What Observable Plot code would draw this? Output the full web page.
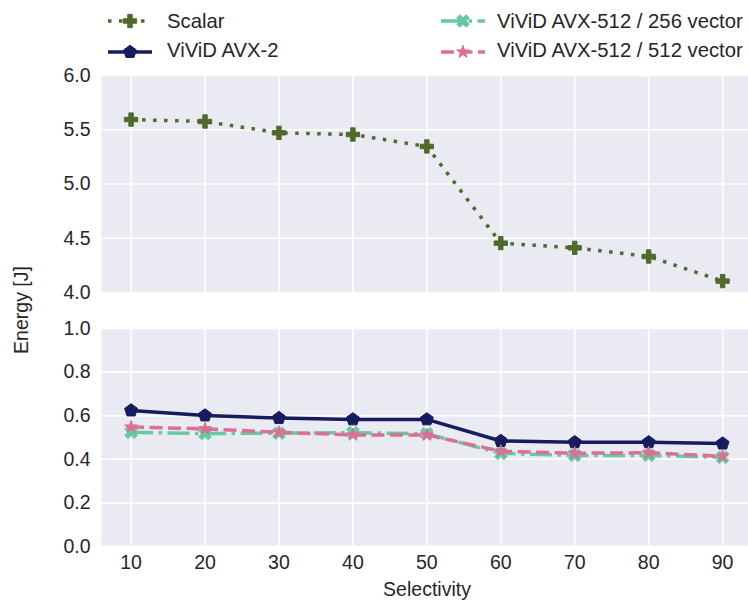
<!DOCTYPE html>
<html><head><meta charset="utf-8">
<script src="https://cdn.jsdelivr.net/npm/d3@7"></script>
<script src="https://cdn.jsdelivr.net/npm/@observablehq/plot@0.6"></script>
<style>
body{margin:0;background:#fff;}
#chart{position:relative;width:748px;height:604px;font-family:"Liberation Sans",Arial,sans-serif;color:#262626;font-size:19.5px;overflow:hidden}
.abs{position:absolute;white-space:nowrap;line-height:19.5px}
.leg{font-size:20.3px;line-height:20.3px}
#chart svg{position:absolute;left:0;overflow:visible}
</style></head><body><div id="chart"></div>
<script>
// ---- data ----
const selectivity = [10, 20, 30, 40, 50, 60, 70, 80, 90];
const scalar      = [5.594, 5.576, 5.472, 5.456, 5.346, 4.455, 4.412, 4.332, 4.105];
const avx2        = [0.624, 0.601, 0.589, 0.583, 0.583, 0.484, 0.478, 0.478, 0.472];
const avx512_256  = [0.524, 0.518, 0.520, 0.522, 0.517, 0.427, 0.418, 0.418, 0.409];
const avx512_512  = [0.548, 0.540, 0.524, 0.512, 0.512, 0.437, 0.428, 0.430, 0.414];
const seriesNames = ["Scalar", "ViViD AVX-2", "ViViD AVX-512 / 256 vector", "ViViD AVX-512 / 512 vector"];
const topTicks = [4.0, 4.5, 5.0, 5.5, 6.0];
const bottomTicks = [0.0, 0.2, 0.4, 0.6, 0.8, 1.0];
const xLabel = "Selectivity";
const yLabel = "Energy [J]";

// ---- symbols ----
const pentagon = {draw(ctx, size){
  const r = Math.sqrt(size / 2.378) * 1.05;
  for (let i = 0; i < 5; i++){
    const a = -Math.PI/2 + i * 2*Math.PI/5;
    const x = r*Math.cos(a), y = r*Math.sin(a);
    i ? ctx.lineTo(x, y) : ctx.moveTo(x, y);
  }
  ctx.closePath();
}};
const filledX = {draw(ctx, size){
  const r = Math.sqrt(size / 5) / 2;
  const pts = [[-3,-1],[-1,-1],[-1,-3],[1,-3],[1,-1],[3,-1],[3,1],[1,1],[1,3],[-1,3],[-1,1],[-3,1]];
  const c = Math.SQRT1_2;
  pts.forEach(([px,py], i) => {
    const x = (px*c - py*c)*r, y = (px*c + py*c)*r;
    i ? ctx.lineTo(x, y) : ctx.moveTo(x, y);
  });
  ctx.closePath();
}};
const plusSym = d3.symbolCross;
const starSym = d3.symbolStar;

const styles = [
  {name: seriesNames[0], color: "#4f6a2c", dash: "3.5,7.5", width: 3.5, symbol: plusSym, r: 5.6},
  {name: seriesNames[1], color: "#161c5e", dash: null, width: 3.5, symbol: pentagon, r: 5.6},
  {name: seriesNames[2], color: "#66c9a5", dash: "22,5.5,3.5,5.5", width: 3.5, symbol: filledX, r: 5.6},
  {name: seriesNames[3], color: "#dc6f93", dash: "13,5.5", width: 3.5, symbol: starSym, r: 4.0}
];

const rows = (vals) => selectivity.map((s, i) => ({s, v: vals[i]}));
const seriesMarks = (data, st) => [
  Plot.line(data, {x: "s", y: "v", stroke: st.color, strokeWidth: st.width, strokeDasharray: st.dash, strokeLinecap: "butt"}),
  Plot.dot(data, {x: "s", y: "v", fill: st.color, stroke: st.color, strokeWidth: 1, symbol: st.symbol, r: st.r})
];

const common = {
  width: 748, marginLeft: 101, marginRight: 0,
  x: {domain: [6, 93.5], axis: null},
  style: {fontFamily: '"Liberation Sans", Arial, sans-serif', fontSize: "19.5px", color: "#262626", background: "transparent", overflow: "visible"}
};
const gridStyle = {stroke: "white", strokeOpacity: 1, strokeWidth: 1.6};

const chartEl = document.getElementById("chart");

const topPlot = Plot.plot({
  ...common, height: 300, marginTop: 75, marginBottom: 8,
  y: {domain: [4, 6], axis: null},
  marks: [
    Plot.frame({fill: "#eaeaf2", stroke: "none"}),
    Plot.gridX(selectivity, gridStyle),
    Plot.gridY(topTicks, gridStyle),
    Plot.axisY(topTicks, {tickSize: 0, tickPadding: 11, tickFormat: d3.format(".1f"), label: null}),
    ...seriesMarks(rows(scalar), styles[0])
  ]
});
topPlot.style.top = "0px";
chartEl.appendChild(topPlot);

const bottomPlot = Plot.plot({
  ...common, height: 304, marginTop: 28, marginBottom: 58,
  y: {domain: [0, 1], axis: null},
  marks: [
    Plot.frame({fill: "#eaeaf2", stroke: "none"}),
    Plot.gridX(selectivity, gridStyle),
    Plot.gridY(bottomTicks, gridStyle),
    Plot.axisY(bottomTicks, {tickSize: 0, tickPadding: 11, tickFormat: d3.format(".1f"), label: null}),
    Plot.axisX(selectivity, {tickSize: 0, tickPadding: 9, label: null}),
    ...seriesMarks(rows(avx2), styles[1]),
    ...seriesMarks(rows(avx512_256), styles[2]),
    ...seriesMarks(rows(avx512_512), styles[3])
  ]
});
bottomPlot.style.top = "300px";
chartEl.appendChild(bottomPlot);

// axis labels
const xl = document.createElement("div");
xl.className = "abs"; xl.textContent = xLabel;
xl.style.left = "427px"; xl.style.top = "580px"; xl.style.transform = "translateX(-50%)";
chartEl.appendChild(xl);
const yl = document.createElement("div");
yl.className = "abs"; yl.textContent = yLabel;
yl.style.left = "22px"; yl.style.top = "310px"; yl.style.transform = "translate(-50%,-50%) rotate(-90deg)";
chartEl.appendChild(yl);

// legend
const legendPos = [
  {sx: 108, tx: 167, cy: 21, ty: 11.3}, {sx: 108, tx: 167, cy: 51.5, ty: 40.1},
  {sx: 441, tx: 497, cy: 21, ty: 11.3}, {sx: 441, tx: 497, cy: 51.5, ty: 40.1}
];
styles.forEach((st, i) => {
  const p = legendPos[i];
  const svg = d3.create("svg").attr("width", 46).attr("height", 20)
    .style("left", p.sx + "px").style("top", (p.cy - 10) + "px");
  svg.append("line").attr("x1", 0).attr("x2", 44).attr("y1", 10).attr("y2", 10)
    .attr("stroke", st.color).attr("stroke-width", st.width)
    .attr("stroke-dasharray", st.dash).attr("stroke-linecap", "butt");
  svg.append("path").attr("transform", "translate(22,10)")
    .attr("d", d3.symbol(st.symbol, Math.PI * st.r * st.r)())
    .attr("fill", st.color).attr("stroke", st.color).attr("stroke-width", 1);
  chartEl.appendChild(svg.node());
  const t = document.createElement("div");
  t.className = "abs leg"; t.textContent = st.name;
  t.style.left = p.tx + "px"; t.style.top = p.ty + "px";
  chartEl.appendChild(t);
});
</script>
</body></html>
